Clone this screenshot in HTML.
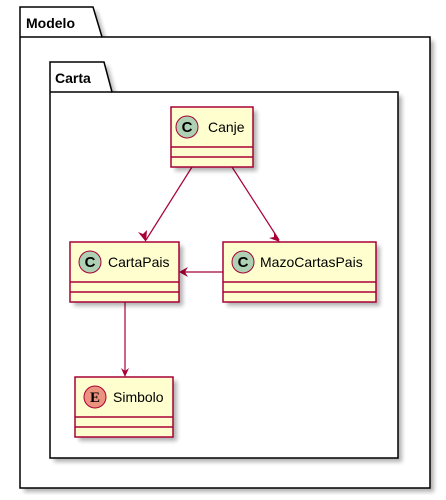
<!DOCTYPE html><html><head><style>body{margin:0;background:#fff}</style></head><body>
<svg width="446" height="495" xmlns="http://www.w3.org/2000/svg" font-family="Liberation Sans, sans-serif">
<defs><filter id="s" x="-10%" y="-10%" width="130%" height="130%"><feGaussianBlur stdDeviation="2"/></filter></defs>
<g fill="#000" opacity="0.3" filter="url(#s)"><path d="M24 11 H97 L106 41 H434 V492 H24 Z"/></g>
<path d="M20 7 H93 L102 37 H430 V488 H20 Z" fill="#fff" stroke="#000" stroke-width="1.5"/>
<line x1="20" y1="37" x2="102" y2="37" stroke="#000" stroke-width="1.5"/>
<text x="26" y="28" font-size="14" font-weight="bold">Modelo</text>
<g fill="#000" opacity="0.3" filter="url(#s)"><path d="M54 66 H108 L116 96 H402 V462 H54 Z"/></g>
<path d="M50 62 H104 L112 92 H398 V458 H50 Z" fill="#fff" stroke="#000" stroke-width="1.5"/>
<line x1="50" y1="92" x2="112" y2="92" stroke="#000" stroke-width="1.5"/>
<text x="55" y="83" font-size="14" font-weight="bold">Carta</text>
<g stroke="#A80036" fill="none" stroke-width="1.2">
<line x1="192" y1="167" x2="146" y2="240"/>
<line x1="232" y1="167" x2="279" y2="240"/>
<line x1="223" y1="272" x2="181" y2="272"/>
<line x1="125" y1="302" x2="125" y2="375"/>
</g>
<g fill="#A80036">
<path d="M146 242 L147 230 L143 234 L138 232 Z"/>
<path d="M280 242 L274 232 L274 237 L269 238 Z"/>
<path d="M179 272 L188 267 L185 272 L188 277 Z"/>
<path d="M125 377 L121 368 L125 371 L129 368 Z"/>
</g>
<g fill="#000" opacity="0.3" filter="url(#s)">
<rect x="175" y="111" width="82" height="60"/><rect x="74" y="246" width="109" height="60"/>
<rect x="227" y="246" width="153" height="60"/><rect x="79" y="381" width="98" height="60"/>
</g>
<g fill="#FEFECE" stroke="#A80036" stroke-width="1.5">
<rect x="171" y="107" width="82" height="60"/><rect x="70" y="242" width="109" height="60"/>
<rect x="223" y="242" width="153" height="60"/><rect x="75" y="377" width="98" height="60"/>
</g>
<g stroke="#A80036" stroke-width="1.5">
<line x1="171" y1="147" x2="253" y2="147"/><line x1="171" y1="157" x2="253" y2="157"/>
<line x1="70" y1="282" x2="179" y2="282"/><line x1="70" y1="292" x2="179" y2="292"/>
<line x1="223" y1="282" x2="376" y2="282"/><line x1="223" y1="292" x2="376" y2="292"/>
<line x1="75" y1="417" x2="173" y2="417"/><line x1="75" y1="427" x2="173" y2="427"/>
</g>
<g stroke="#A80036" stroke-width="1">
<circle cx="187" cy="127" r="11" fill="#ADD1B2"/><circle cx="90" cy="262" r="11" fill="#ADD1B2"/>
<circle cx="243" cy="262" r="11" fill="#ADD1B2"/><circle cx="95" cy="397" r="11" fill="#EB937F"/>
</g>
<g font-weight="bold" font-size="15" text-anchor="middle">
<text x="187" y="132">C</text><text x="90" y="267">C</text><text x="243" y="267">C</text>
<text x="95" y="402" font-family="Liberation Serif, serif">E</text>
</g>
<g font-size="14">
<text x="208" y="132">Canje</text><text x="108" y="267">CartaPais</text>
<text x="260" y="267">MazoCartasPais</text><text x="113" y="402">Simbolo</text>
</g>
</svg></body></html>
